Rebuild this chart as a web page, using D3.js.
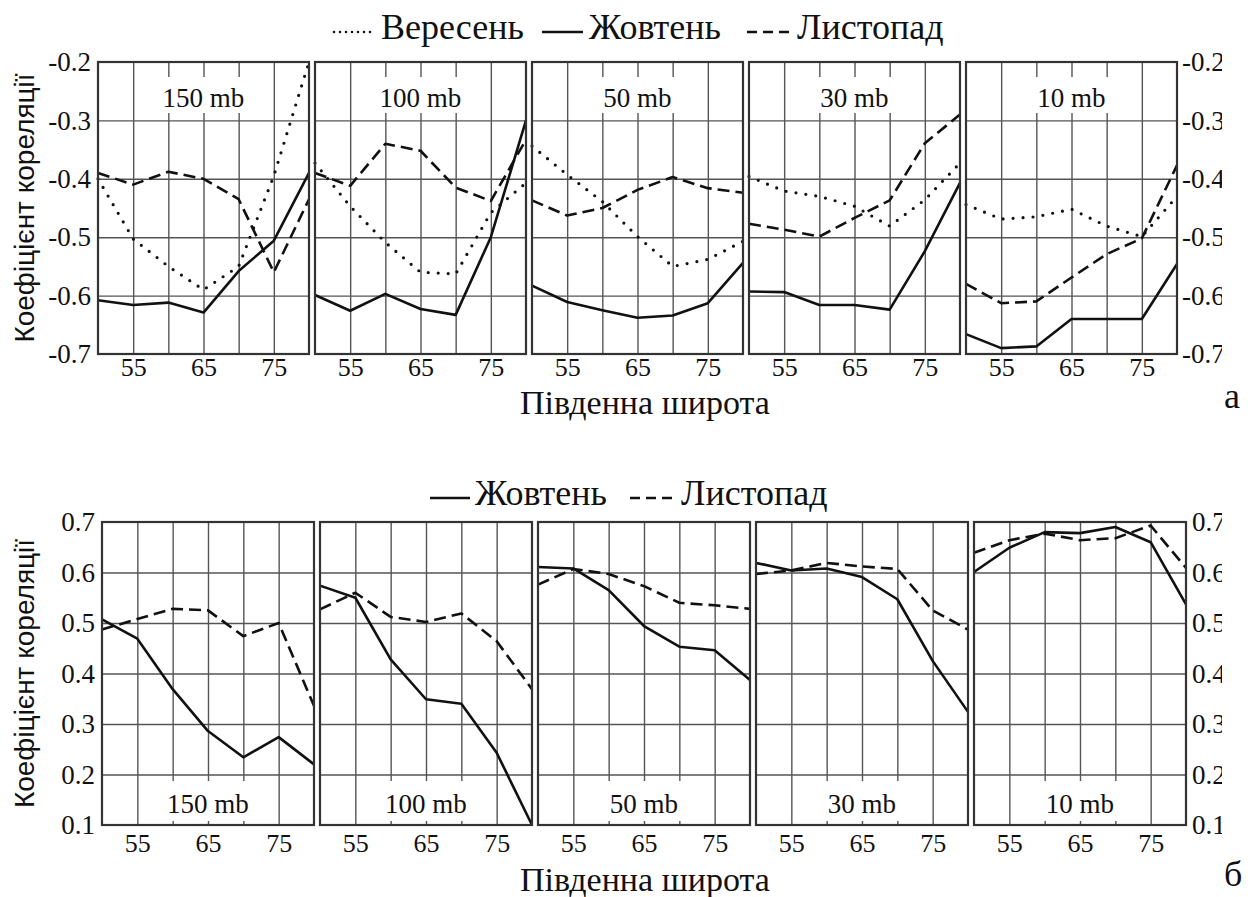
<!DOCTYPE html>
<html>
<head>
<meta charset="utf-8">
<script src="https://cdn.jsdelivr.net/npm/d3@7"></script>
<style>
  body { margin: 0; background: #fff; }
  svg { display: block; }
</style>
</head>
<body>
<script>
// latitudes (south), pressure levels and tick labels
var lats = [50, 55, 60, 65, 70, 75, 80];
var levels = ["150 mb", "100 mb", "50 mb", "30 mb", "10 mb"];
var xGrid = [55, 60, 65, 70, 75];
var xLabels = [55, 65, 75];
var yTicksA = [-0.7, -0.6, -0.5, -0.4, -0.3, -0.2];
var yTicksB = [0.1, 0.2, 0.3, 0.4, 0.5, 0.6, 0.7];

// panel a: one array per level, values at the latitudes above
var aSep = [
  [-0.40, -0.503, -0.55, -0.59, -0.55, -0.395, -0.20],
  [-0.373, -0.447, -0.509, -0.56, -0.563, -0.458, -0.407],
  [-0.344, -0.393, -0.439, -0.499, -0.55, -0.538, -0.507],
  [-0.396, -0.421, -0.43, -0.447, -0.481, -0.436, -0.373],
  [-0.444, -0.469, -0.465, -0.452, -0.481, -0.499, -0.43]
];
var aOct = [
  [-0.608, -0.616, -0.612, -0.629, -0.558, -0.506, -0.39],
  [-0.599, -0.626, -0.597, -0.623, -0.633, -0.50, -0.30],
  [-0.583, -0.611, -0.625, -0.638, -0.634, -0.613, -0.544],
  [-0.593, -0.594, -0.616, -0.616, -0.624, -0.524, -0.407],
  [-0.666, -0.69, -0.687, -0.64, -0.64, -0.64, -0.546]
];
var aNov = [
  [-0.39, -0.41, -0.388, -0.40, -0.435, -0.56, -0.435],
  [-0.39, -0.412, -0.34, -0.352, -0.415, -0.438, -0.333],
  [-0.437, -0.463, -0.45, -0.419, -0.397, -0.416, -0.424],
  [-0.477, -0.487, -0.499, -0.467, -0.437, -0.339, -0.29],
  [-0.58, -0.613, -0.61, -0.569, -0.529, -0.502, -0.377]
];
// panel б
var bOct = [
  [0.507, 0.469, 0.369, 0.286, 0.234, 0.274, 0.22],
  [0.574, 0.55, 0.428, 0.349, 0.34, 0.243, 0.10],
  [0.611, 0.608, 0.565, 0.494, 0.453, 0.446, 0.387],
  [0.619, 0.604, 0.608, 0.591, 0.547, 0.425, 0.324],
  [0.601, 0.649, 0.68, 0.678, 0.69, 0.66, 0.537]
];
var bNov = [
  [0.487, 0.508, 0.528, 0.525, 0.474, 0.50, 0.336],
  [0.527, 0.56, 0.512, 0.502, 0.519, 0.464, 0.369],
  [0.576, 0.607, 0.597, 0.573, 0.54, 0.535, 0.528],
  [0.597, 0.604, 0.619, 0.612, 0.607, 0.525, 0.487],
  [0.639, 0.664, 0.677, 0.664, 0.668, 0.693, 0.609]
];

// pick the first serif face that is really installed
function firstInstalled(list, fallback) {
  var ctx = document.createElement("canvas").getContext("2d");
  var probe = "Південна широта 0123456789 mb";
  ctx.font = "40px monospace";
  var base = ctx.measureText(probe).width;
  for (var k = 0; k < list.length; k++) {
    ctx.font = "40px '" + list[k] + "', monospace";
    if (Math.abs(ctx.measureText(probe).width - base) > 0.5) return "'" + list[k] + "'";
  }
  return fallback;
}
var SERIF = firstInstalled(["Liberation Serif", "Times New Roman", "Tinos", "DejaVu Serif",
  "Noto Serif", "FreeSerif", "Nimbus Roman", "Times"], "serif");
var SANS = "'Liberation Sans', Arial, sans-serif";
var styles = {
  sep: { dash: "0,10", width: 3.2, cap: "round" },
  oct: { dash: null, width: 2.6, cap: "butt" },
  nov: { dash: "12,6", width: 2.6, cap: "butt" }
};

var svg = d3.select("body").append("svg")
  .attr("width", 1254).attr("height", 897);

svg.append("defs").append("clipPath").attr("id", "edge")
  .append("rect").attr("x", 0).attr("y", 0).attr("width", 1222).attr("height", 897);

function drawRow(cfg) {
  var ph = cfg.bottom - cfg.top;
  var y = d3.scaleLinear().domain(cfg.domain).range([cfg.bottom, cfg.top]);
  var innerY = cfg.ticks.slice(1, -1);
  var fmt = function(d) { return d.toFixed(1); };

  levels.forEach(function(lev, i) {
    var x0 = cfg.left + i * cfg.step;
    var x = d3.scaleLinear().domain([50, 80]).range([x0, x0 + cfg.pw]);
    var g = svg.append("g");

    // grid lines
    var gy = g.append("g").attr("transform", "translate(" + x0 + ",0)")
      .call(d3.axisLeft(y).tickValues(innerY).tickSize(-cfg.pw).tickFormat(""));
    var gx = g.append("g").attr("transform", "translate(0," + cfg.bottom + ")")
      .call(d3.axisBottom(x).tickValues(xGrid).tickSize(-ph).tickFormat(""));
    [gx, gy].forEach(function(a) {
      a.select(".domain").remove();
      a.selectAll("text").remove();
      a.selectAll("line").attr("stroke", "#555").attr("stroke-width", 1.4);
    });

    // white backing for the level label (sized below)
    var back = g.append("rect").attr("fill", "#fff");

    // series
    var line = d3.line().x(function(d, j) { return x(lats[j]); }).y(function(d) { return y(d); });
    cfg.series.forEach(function(s) {
      var st = styles[s.key];
      g.append("path").datum(s.data[i])
        .attr("d", line).attr("fill", "none").attr("stroke", "#111")
        .attr("stroke-width", st.width).attr("stroke-linecap", st.cap)
        .attr("stroke-linejoin", "round")
        .attr("stroke-dasharray", st.dash);
    });

    // frame
    g.append("rect").attr("x", x0).attr("y", cfg.top)
      .attr("width", cfg.pw).attr("height", ph)
      .attr("fill", "none").attr("stroke", "#333").attr("stroke-width", 2.2);

    // level label
    var cx = x0 + cfg.pw / 2;
    var lbl = g.append("text").attr("x", cx).attr("y", cfg.labelY)
      .attr("text-anchor", "middle")
      .style("font-family", SERIF).style("font-size", "27px").attr("fill", "#111")
      .text(lev);
    var bw = lbl.node().getComputedTextLength() + 12;
    back.attr("x", cx - bw / 2).attr("y", cfg.rectTop)
      .attr("width", bw).attr("height", cfg.rectBot - cfg.rectTop);

    // x tick labels
    var xl = g.append("g").attr("transform", "translate(0," + cfg.bottom + ")")
      .call(d3.axisBottom(x).tickValues(xLabels).tickSize(0).tickPadding(cfg.xPad));
    xl.select(".domain").remove();
    xl.selectAll("text").style("font-family", SERIF).style("font-size", "26px").attr("fill", "#111");

    // y tick labels on outer panels
    if (i === 0) {
      var yl = g.append("g").attr("transform", "translate(" + x0 + ",0)")
        .call(d3.axisLeft(y).tickValues(cfg.ticks).tickSize(0).tickPadding(7).tickFormat(fmt));
      yl.select(".domain").remove();
      yl.selectAll("text").style("font-family", SERIF).style("font-size", "27px").attr("fill", "#111");
    }
    if (i === levels.length - 1) {
      var yr = g.append("g").attr("clip-path", "url(#edge)")
        .append("g").attr("transform", "translate(" + (x0 + cfg.pw) + ",0)")
        .call(d3.axisRight(y).tickValues(cfg.ticks).tickSize(0).tickPadding(cfg.rPad).tickFormat(fmt));
      yr.select(".domain").remove();
      yr.selectAll("text").style("font-family", SERIF).style("font-size", "27px").attr("fill", "#111");
    }
  });

  // y title
  svg.append("text")
    .attr("transform", "translate(34," + ((cfg.top + cfg.bottom) / 2) + ") rotate(-90)")
    .attr("text-anchor", "middle")
    .style("font-family", SANS).style("font-size", "28px").attr("fill", "#111")
    .text("Коефіцієнт кореляції");

  // x title
  svg.append("text").attr("x", 645).attr("y", cfg.titleY)
    .attr("text-anchor", "middle")
    .style("font-family", SERIF).style("font-size", "34px").attr("fill", "#111")
    .text("Південна широта");

  svg.append("text").attr("x", 1224).attr("y", cfg.tagY)
    .style("font-family", SERIF).style("font-size", "36px").attr("fill", "#111")
    .text(cfg.tag);

  // legend
  cfg.legend.forEach(function(it) {
    var st = styles[it.key];
    svg.append("line").attr("x1", it.x1).attr("x2", it.x2)
      .attr("y1", cfg.legY - 7).attr("y2", cfg.legY - 7)
      .attr("stroke", "#111").attr("stroke-width", 2.6)
      .attr("stroke-linecap", st.cap)
      .attr("stroke-dasharray", it.key === "sep" ? "0,6" : (it.key === "nov" ? "10,6" : null));
    svg.append("text").attr("x", it.tx).attr("y", cfg.legY)
      .style("font-family", SERIF).style("font-size", "36px").attr("fill", "#111")
      .text(it.name);
  });
}

drawRow({
  top: 62, bottom: 354, left: 98, step: 217, pw: 211,
  domain: [-0.7, -0.2], ticks: yTicksA,
  series: [{ key: "sep", data: aSep }, { key: "nov", data: aNov }, { key: "oct", data: aOct }],
  labelY: 107, rectTop: 77, rectBot: 113, xPad: 4, rPad: 5,
  titleY: 414, tag: "а", tagY: 408, legY: 39,
  legend: [
    { key: "sep", x1: 334, x2: 375, tx: 381, name: "Вересень" },
    { key: "oct", x1: 542, x2: 583, tx: 589, name: "Жовтень" },
    { key: "nov", x1: 747, x2: 791, tx: 797, name: "Листопад" }
  ]
});

drawRow({
  top: 522, bottom: 825, left: 102, step: 218, pw: 212,
  domain: [0.1, 0.7], ticks: yTicksB,
  series: [{ key: "nov", data: bNov }, { key: "oct", data: bOct }],
  labelY: 813, rectTop: 781, rectBot: 821, xPad: 9, rPad: 6,
  titleY: 891, tag: "б", tagY: 886, legY: 505,
  legend: [
    { key: "oct", x1: 430, x2: 470, tx: 475, name: "Жовтень" },
    { key: "nov", x1: 630, x2: 673, tx: 681, name: "Листопад" }
  ]
});
</script>
</body>
</html>
